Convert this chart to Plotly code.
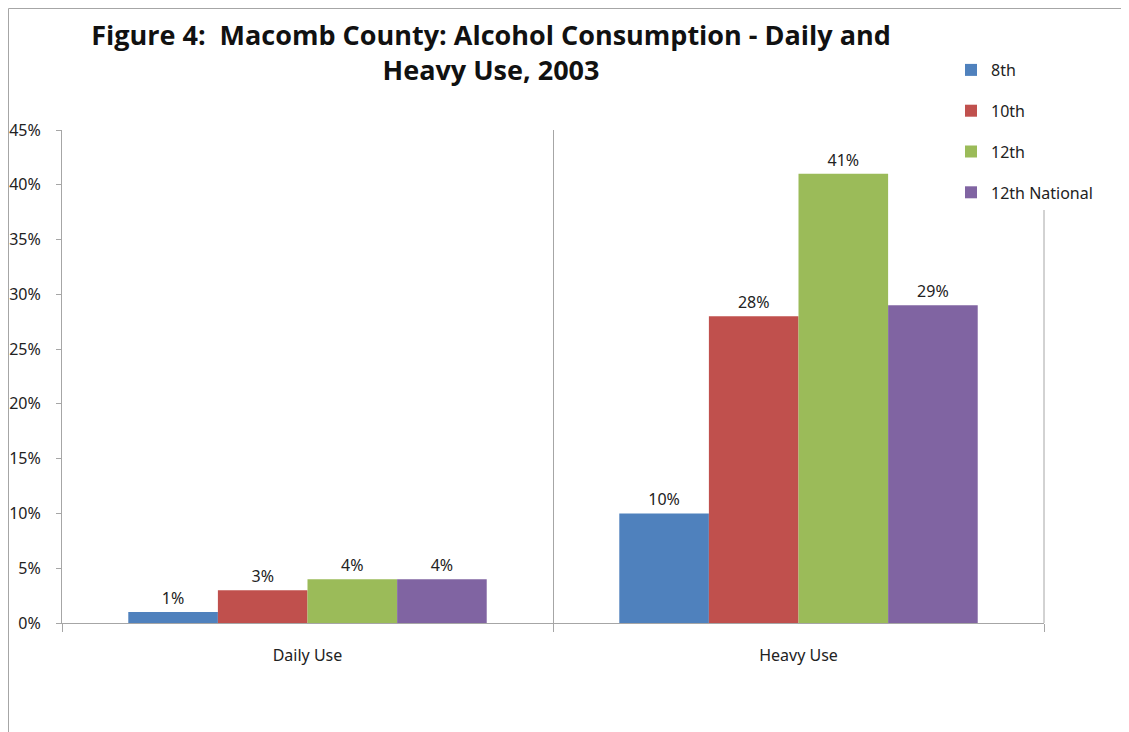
import plotly.graph_objects as go

categories = ["Daily Use", "Heavy Use"]
series_names = ["8th", "10th", "12th", "12th National"]
values_8th = [1, 10]
values_10th = [3, 28]
values_12th = [4, 41]
values_12th_national = [4, 29]
colors = ["#4F81BD", "#C0504D", "#9BBB59", "#8064A2"]
y_ticks = [0, 5, 10, 15, 20, 25, 30, 35, 40, 45]
y_tick_labels = [f"{v}%" for v in y_ticks]

series_values = [values_8th, values_10th, values_12th, values_12th_national]

# page body has an 8px margin, so figure coords = screen coords - 8
W, H = 1121, 724
L, R, T, B = 54, 1036, 122, 615
PW, PH = R - L, B - T

fig = go.Figure()
for i, (name, vals) in enumerate(zip(series_names, series_values)):
    fig.add_trace(go.Bar(
        x=categories, y=vals, name=name,
        marker=dict(color=colors[i], line=dict(width=0)),
        text=[f"{v}%" for v in vals], textposition="outside",
        textfont=dict(size=16, color="#222222", family="Noto Sans"),
        cliponaxis=False, legendgroup=name,
    ))

fig.update_layout(
    width=W, height=H,
    margin=dict(l=L, r=W - R, t=T, b=H - B, autoexpand=False),
    paper_bgcolor="white", plot_bgcolor="white",
    barmode="group", bargap=0.27, bargroupgap=0,
    font=dict(family="Noto Sans", size=16, color="#222222"),
    title=dict(
        text="Figure 4:  Macomb County: Alcohol Consumption - Daily and<br>Heavy Use, 2003",
        x=483 / W, xref="container", xanchor="center",
        y=1 - 37 / H, yref="container", yanchor="top",
        font=dict(family="Open Sans", size=27, color="#111111", weight="bold"),
    ),
    legend=dict(
        x=(943 - L) / PW, xref="paper", y=1 + (T - 45) / PH, yref="paper",
        xanchor="left", yanchor="top",
        font=dict(size=16, color="#222222"),
        bgcolor="white", tracegroupgap=17, traceorder="grouped",
    ),
    showlegend=True,
)

fig.update_xaxes(
    type="category", tickson="boundaries", showgrid=True, gridcolor="#A6A6A6", gridwidth=1,
    ticks="outside", ticklen=8, tickcolor="#A6A6A6",
    showline=True, linecolor="#A6A6A6", linewidth=1,
    tickfont=dict(size=16, color="#222222"), zeroline=False,
    ticklabelstandoff=18,
)
fig.update_yaxes(
    range=[0, 45], tickvals=y_ticks, ticktext=y_tick_labels,
    showgrid=False, zeroline=False,
    showline=True, linecolor="#A6A6A6", linewidth=1,
    ticks="outside", ticklen=5, tickcolor="#A6A6A6",
    tickfont=dict(size=16, color="#222222"),
    ticklabelstandoff=12,
)

# right boundary gridline of the plot area
fig.add_shape(type="line", xref="paper", yref="paper", x0=1, x1=1, y0=0, y1=1,
              line=dict(color="#A6A6A6", width=1), layer="below")

# outer chart border (top and left)
bx = (0.5 - L) / PW
by = 1 + (T - 0.5) / PH
fig.add_shape(type="line", xref="paper", yref="paper",
              x0=bx, x1=1.2, y0=by, y1=by, line=dict(color="#A6A6A6", width=1))
fig.add_shape(type="line", xref="paper", yref="paper",
              x0=bx, x1=bx, y0=by, y1=-0.3, line=dict(color="#A6A6A6", width=1))

fig.write_html("out.html")
